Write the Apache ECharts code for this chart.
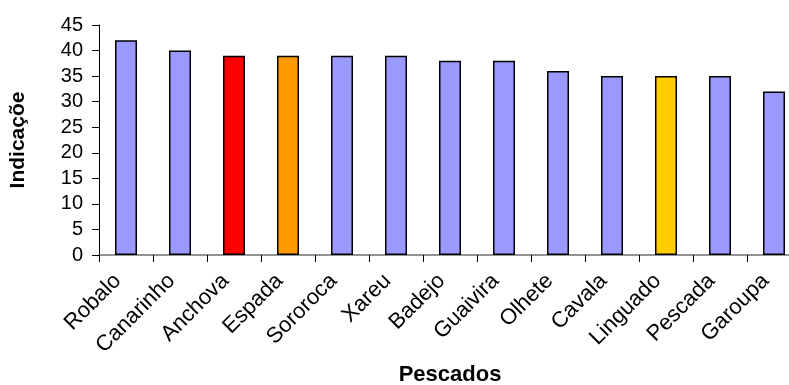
<!DOCTYPE html>
<html>
<head>
<meta charset="utf-8">
<script src="https://cdn.jsdelivr.net/npm/echarts@6/dist/echarts.min.js"></script>
<style>
html,body{margin:0;padding:0;background:#fff;}
#c{width:789px;height:385px;}
</style>
</head>
<body>
<div id="c"></div>
<script>
const categories = ['Robalo','Canarinho','Anchova','Espada','Sororoca','Xareu','Badejo','Guaivira','Olhete','Cavala','Linguado','Pescada','Garoupa'];
const values = [42, 40, 39, 39, 39, 39, 38, 38, 36, 35, 35, 35, 32];
const barColors = ['#9999FF','#9999FF','#FF0000','#FF9900','#9999FF','#9999FF','#9999FF','#9999FF','#9999FF','#9999FF','#FFCC00','#9999FF','#9999FF'];
const xTitle = 'Pescados';
const yTitle = 'Indicaçõe';

const chart = echarts.init(document.getElementById('c'), null, {renderer:'canvas'});
const font = 'Liberation Sans, Arial, sans-serif';
chart.setOption({
  animation: false,
  backgroundColor: '#fff',
  grid: {left: 99, top: 25, width: 702, height: 230, containLabel: false, outerBoundsMode: 'none'},
  xAxis: {
    type: 'category',
    data: categories,
    name: xTitle,
    nameLocation: 'middle',
    nameGap: 107,
    nameTextStyle: {fontFamily: font, fontWeight: 'bold', fontSize: 22, color: '#000'},
    axisLine: {show: true, lineStyle: {color: '#707070', width: 1.5}},
    axisTick: {show: true, length: 7, interval: 0, lineStyle: {color: '#000', width: 1}},
    axisLabel: {rotate: 45, interval: 0, margin: 14, padding: [0, 12, 0, 0], fontFamily: font, fontSize: 22, color: '#000'},
    splitLine: {show: false}
  },
  yAxis: {
    type: 'value',
    min: 0, max: 45, interval: 5,
    name: yTitle,
    nameLocation: 'middle',
    nameGap: 70,
    nameTextStyle: {fontFamily: font, fontWeight: 'bold', fontSize: 21, color: '#000'},
    axisLine: {show: true, lineStyle: {color: '#000', width: 1}},
    axisTick: {show: true, length: 7, lineStyle: {color: '#000'}},
    axisLabel: {margin: 16, fontFamily: font, fontSize: 20, color: '#000'},
    splitLine: {show: false}
  },
  series: [{
    type: 'bar',
    data: values.map((v, i) => ({value: v, itemStyle: {color: barColors[i]}})),
    barWidth: 22,
    itemStyle: {borderColor: '#000', borderWidth: 1.5}
  }]
});
</script>
</body>
</html>
